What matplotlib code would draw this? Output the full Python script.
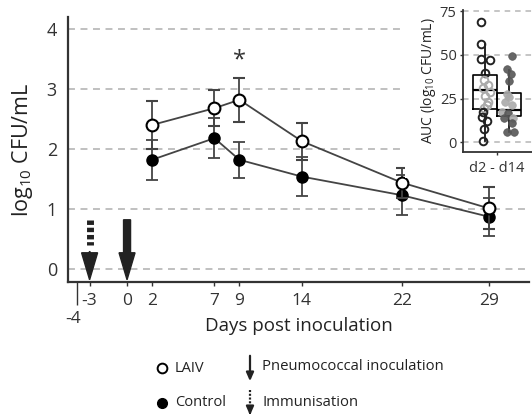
import matplotlib
matplotlib.use("Agg")
import matplotlib.pyplot as plt
from matplotlib.patches import FancyArrow

plt.rcParams['font.family'] = ['Open Sans', 'DejaVu Sans']
plt.rcParams['mathtext.fontset'] = 'custom'
plt.rcParams['mathtext.rm'] = 'Open Sans'
plt.rcParams['mathtext.it'] = 'Open Sans'
plt.rcParams['lines.scale_dashes'] = False

# ---- main data ----
days = [2, 7, 9, 14, 22, 29]
laiv = [2.40, 2.68, 2.82, 2.13, 1.44, 1.01]
laiv_err = [0.40, 0.30, 0.37, 0.31, 0.25, 0.35]
control = [1.82, 2.18, 1.82, 1.54, 1.23, 0.87]
control_err = [0.33, 0.33, 0.30, 0.32, 0.33, 0.32]
xticks = [-4, -3, 0, 2, 7, 9, 14, 22, 29]
yticks = [0, 1, 2, 3, 4]
immunisation_day = -3
inoculation_day = 0
star_day, star_y = 9, 3.48

# ---- inset data (AUC d2-d14) ----
auc_yticks = [0, 25, 50, 75]
laiv_auc = [68.6, 56, 47.6, 47, 39.4, 35.6, 32.7, 30.9, 28.6, 26.6, 23.2, 21.3, 19.4, 17.1, 14.6, 12.2, 7.6, 0.7]
laiv_jit = [-0.17, -0.18, -0.18, 0.21, 0.0, -0.04, 0.14, -0.07, 0.21, 0.0, 0.14, 0.07, -0.04, -0.10, -0.14, 0.07, -0.04, -0.10]
laiv_dark = [1, 1, 1, 1, 1, 0, 0, 0, 0, 0, 0, 0, 0, 1, 1, 1, 1, 1]
ctrl_auc = [49.5, 41.9, 39, 35, 27.4, 26, 23.2, 21.3, 17.5, 16.6, 13.7, 13.7, 10.9, 6, 6]
ctrl_jit = [0.11, -0.10, 0.07, 0.01, -0.10, 0.01, -0.17, 0.11, -0.30, -0.03, -0.21, 0.18, 0.11, -0.10, 0.21]
ctrl_dark = [1, 1, 1, 1, 0, 0, 0, 0, 0, 1, 1, 0, 1, 1, 1]
box_stats = [
    dict(med=29.9, q1=19.0, q3=38.5, whislo=0.7, whishi=56.0, fliers=[]),
    dict(med=18.5, q1=15.0, q3=28.0, whislo=6.0, whishi=41.3, fliers=[]),
]

W, H = 532, 418
fig = plt.figure(figsize=(W / 100, H / 100), dpi=100)

def fr(x0, y0, x1, y1):
    return [x0 / W, 1 - y1 / H, (x1 - x0) / W, (y1 - y0) / H]

line_c = '#444444'
ax = fig.add_axes(fr(68, 17, 529, 282))
ax.set_xlim(-4.73, 32.2)
ax.set_ylim(-0.217, 4.2)
for y in yticks:
    ax.axhline(y, color='#bbbbbb', lw=1.3, dashes=(5, 4), zorder=0)

ax.errorbar(days, control, yerr=control_err, color=line_c, lw=1.3, elinewidth=1.3,
            capsize=4.5, capthick=1.3, marker='o', ms=8, mfc='black', mec='black', zorder=3)
ax.errorbar(days, laiv, yerr=laiv_err, color=line_c, lw=1.3, elinewidth=1.3,
            capsize=4.5, capthick=1.3, marker='o', ms=8.5, mfc='white', mec='black',
            mew=1.5, zorder=4)
ax.text(star_day, star_y, '*', ha='center', va='center', fontsize=17, color='#333333')

# arrows
pxx = 12.48  # px per day
pxy = 60.0   # px per unit
ax.add_patch(FancyArrow(inoculation_day, 0.82, 0, -1.0, width=7 / pxx, head_width=16 / pxx,
                        head_length=27 / pxy, length_includes_head=True, color='#222222', zorder=5))
ax.plot([immunisation_day, immunisation_day], [0.82, 0.4], color='#222222', lw=5,
        dashes=(3.2, 2.0), solid_capstyle='butt', zorder=5)
ax.add_patch(FancyArrow(immunisation_day, 0.3, 0, -0.48, width=0.0, head_width=16 / pxx,
                        head_length=27 / pxy, length_includes_head=True, color='#222222', zorder=5))

for s in ['top', 'right']:
    ax.spines[s].set_visible(False)
for s in ['left', 'bottom']:
    ax.spines[s].set_linewidth(1.6)
    ax.spines[s].set_color('#333333')
ax.set_yticks(yticks)
ax.tick_params(axis='y', length=0, pad=8, labelsize=13, colors='#333333')
ax.set_xticks(xticks)
ax.set_xticklabels([''] + [str(t) for t in xticks[1:]])
ax.tick_params(axis='x', length=3, width=1.0, pad=5, labelsize=12.5, colors='#333333')
t0 = ax.xaxis.get_major_ticks()[0]
t0.tick1line.set_markersize(16.5)
ax.annotate('-4', xy=(-4, 0), xycoords=('data', 'axes fraction'), xytext=(-3, -21),
            textcoords='offset points', ha='center', va='top', fontsize=12.5, color='#333333')
ax.set_xlabel('Days post inoculation', fontsize=13.5, labelpad=6, color='#222222')
ax.set_ylabel(r'log$_{10}$ CFU/mL', fontsize=15.5, labelpad=8, color='#222222')

# white background for inset region
bg = fig.add_axes(fr(405, 0, 532, 178))
bg.set_facecolor('white')
bg.set_xticks([]); bg.set_yticks([])
for s in bg.spines.values():
    s.set_visible(False)

# inset
ax2 = fig.add_axes(fr(463, 10, 532, 152))
ax2.set_xlim(0.083, 2.96)
ax2.set_ylim(-5.5, 75.6)
for y in auc_yticks:
    ax2.axhline(y, color='#bbbbbb', lw=1.2, dashes=(4, 3.5), zorder=0)
ax2.bxp(box_stats, positions=[1, 2], widths=1.0, showfliers=False,
        boxprops=dict(color='black', lw=1.2), medianprops=dict(color='black', lw=1.6),
        whiskerprops=dict(color='black', lw=1.2), capprops=dict(lw=0), zorder=2)
for v, j, d in zip(laiv_auc, laiv_jit, laiv_dark):
    ax2.plot(1 + j, v, 'o', ms=5.5, mfc='none', mec='#222222' if d else '#aaaaaa',
             mew=1.4, zorder=3)
for v, j, d in zip(ctrl_auc, ctrl_jit, ctrl_dark):
    c = '#555555' if d else '#aaaaaa'
    ax2.plot(2 + j, v, 'o', ms=5.5, mfc=c, mec=c, mew=0.5, alpha=0.9, zorder=3)
for s in ['top', 'right']:
    ax2.spines[s].set_visible(False)
for s in ['left', 'bottom']:
    ax2.spines[s].set_linewidth(1.3)
    ax2.spines[s].set_color('#333333')
ax2.set_yticks(auc_yticks)
ax2.set_xticks([1.5])
ax2.set_xticklabels(['d2 - d14'])
ax2.tick_params(axis='both', length=2.5, width=1.0, pad=2, labelsize=10.5, colors='#333333')
ax2.tick_params(axis='x', pad=4)
ax2.set_ylabel(r'AUC (log$_{10}$ CFU/mL)', fontsize=10, labelpad=1, color='#222222')

# legend (overlay in pixel coordinates)
ov = fig.add_axes([0, 0, 1, 1], zorder=10)
ov.set_xlim(0, W); ov.set_ylim(H, 0)
ov.axis('off')
ov.patch.set_alpha(0)
ov.plot([162], [368], 'o', ms=7, mfc='white', mec='black', mew=1.4)
ov.text(175, 368, 'LAIV', va='center', ha='left', fontsize=10.5, color='#222222')
ov.plot([162], [403], 'o', ms=7, mfc='black', mec='black')
ov.text(175, 403, 'Control', va='center', ha='left', fontsize=10.5, color='#222222')
ov.annotate('', xy=(250, 384), xytext=(250, 353),
            arrowprops=dict(arrowstyle='-|>,head_length=0.5,head_width=0.22', lw=1.6, color='#222222'))
ov.text(262, 367, 'Pneumococcal inoculation', va='center', ha='left', fontsize=10.7, color='#222222')
ov.plot([250, 250], [390, 409], color='#222222', lw=1.6, dashes=(1.5, 1.2))
ov.annotate('', xy=(250, 418), xytext=(250, 408),
            arrowprops=dict(arrowstyle='-|>,head_length=0.5,head_width=0.22', lw=1.6, color='#222222'))
ov.text(262, 402, 'Immunisation', va='center', ha='left', fontsize=10.7, color='#222222')

fig.savefig('out.png', dpi=100)
